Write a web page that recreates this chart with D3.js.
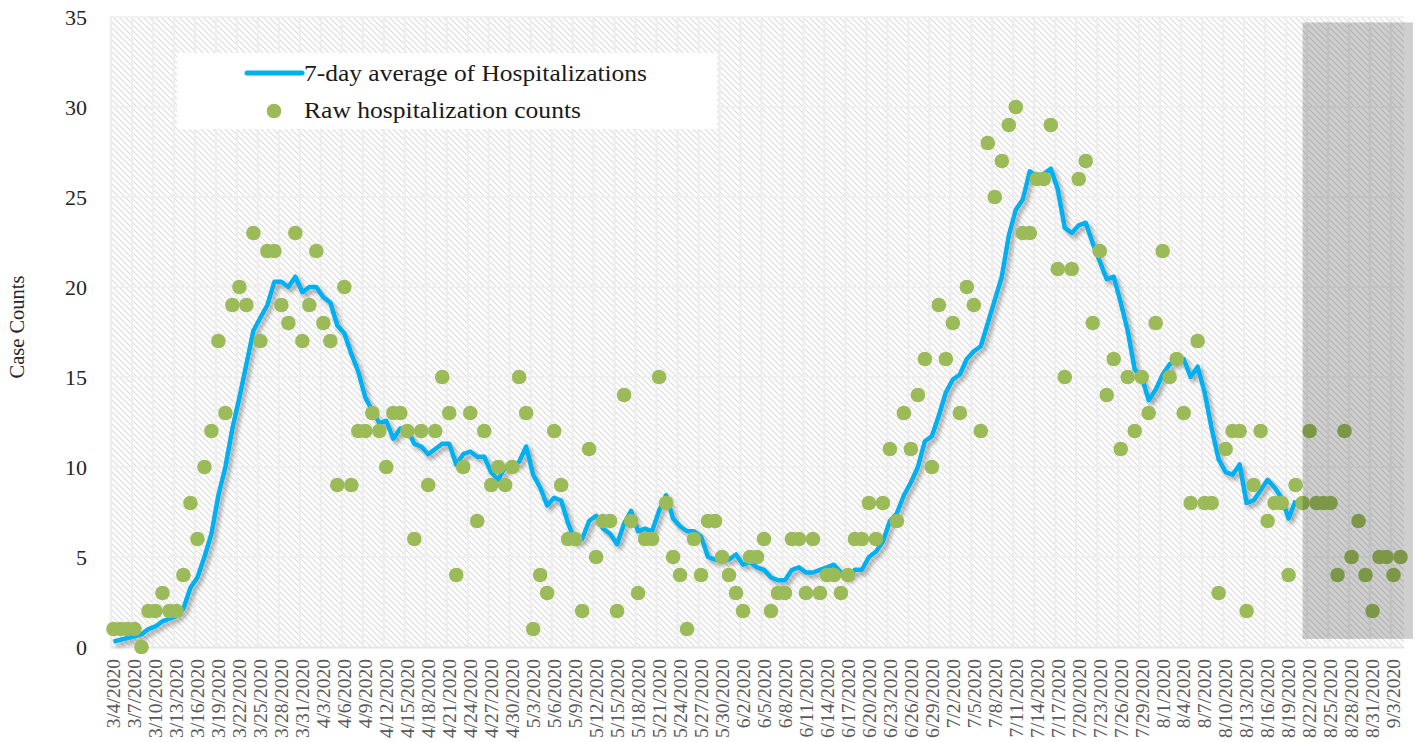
<!DOCTYPE html>
<html>
<head>
<meta charset="utf-8">
<script src="https://cdn.jsdelivr.net/npm/d3@7"></script>
<style>
  body { margin: 0; background: #ffffff; }
  svg { display: block; }
</style>
</head>
<body>
<svg id="chart" width="1424" height="742"></svg>
<script>
// ---------------- data ----------------
const startDate = new Date(2020, 2, 4);
const endDate = new Date(2020, 8, 5); // exclusive
const dates = d3.timeDay.range(startDate, endDate); // 3/4/2020 ... 9/4/2020

const rawCounts = [
  1,1,1,1,0,2,2,3,2,2,
  4,8,6,10,12,17,13,19,20,19,
  23,17,22,22,19,18,23,17,19,22,
  18,17,9,20,9,12,12,13,12,10,
  13,13,12,6,12,9,12,15,13,4,
  10,13,7,12,9,10,9,10,15,13,
  1,4,3,12,9,6,6,2,11,5,
  7,7,2,14,7,3,6,6,15,8,
  5,4,1,6,4,7,7,5,4,3,
  2,5,5,6,2,3,3,6,6,3,
  6,3,4,4,3,4,6,6,8,6,
  8,11,7,13,11,14,16,10,19,16,
  18,13,20,19,12,28,25,27,29,30,
  23,23,26,26,29,21,15,21,26,27,
  18,22,14,16,11,15,12,15,13,18,
  22,15,16,13,8,17,8,8,3,11,
  12,12,2,9,12,7,8,8,4,9,
  8,12,8,8,8,4,12,5,7,4,
  2,5,5,4,5
];

const avgCounts = [
  0.3,0.4,0.5,0.6,0.7,1.0,1.14,1.43,1.57,1.71,
  2.14,3.29,3.86,5.0,6.29,8.43,10.0,12.14,13.86,15.71,
  17.57,18.29,19.0,20.29,20.29,20.0,20.57,19.71,20.0,20.0,
  19.43,19.14,17.86,17.43,16.29,15.29,13.86,13.14,12.43,12.57,
  11.57,12.14,12.14,11.29,11.14,10.71,11.0,11.29,11.29,10.14,
  10.71,10.86,10.57,10.57,9.71,9.29,10.0,10.0,10.29,11.14,
  9.57,8.86,7.86,8.29,8.14,6.86,5.86,6.0,7.0,7.29,
  6.57,6.29,5.71,6.86,7.57,6.43,6.57,6.43,7.57,8.43,
  7.14,6.71,6.43,6.43,6.14,5.0,4.86,4.86,4.86,5.14,
  4.57,4.71,4.43,4.29,3.86,3.71,3.71,4.29,4.43,4.14,
  4.14,4.29,4.43,4.57,4.14,3.86,4.29,4.29,5.0,5.29,
  5.86,7.0,7.43,8.43,9.14,10.0,11.43,11.71,12.86,14.14,
  14.86,15.14,16.0,16.43,16.71,18.0,19.29,20.57,22.86,24.29,
  24.86,26.43,26.14,26.29,26.57,25.43,23.29,23.0,23.43,23.57,
  22.43,21.43,20.43,20.57,19.14,17.57,15.43,15.0,13.71,14.29,
  15.14,15.71,15.86,16.0,15.0,15.57,14.14,12.14,10.43,9.71,
  9.57,10.14,8.0,8.14,8.71,9.29,8.86,8.29,7.14,8.14
];

const yTicks = [0, 5, 10, 15, 20, 25, 30, 35];
const tickStep = 3;
const tickDates = dates.filter((d, i) => i % tickStep === 0);
const seriesNames = ["7-day average of Hospitalizations", "Raw hospitalization counts"];
const yTitle = "Case Counts";
const shadedFrom = new Date(2020, 7, 21); // grey shaded period start

// ---------------- layout ----------------
const svg = d3.select("#chart");
const m = { left: 110, right: 1404, top: 17, bottom: 647 };
const FONT = "'Liberation Serif', 'Times New Roman', serif";

const x = d3.scaleBand().domain(dates).range([m.left, m.right]).padding(0);
const xc = d => x(d) + x.bandwidth() / 2;
const y = d3.scaleLinear().domain([0, 35]).range([m.bottom, m.top]);

const defs = svg.append("defs");
const pat = defs.append("pattern")
  .attr("id", "hatch").attr("patternUnits", "userSpaceOnUse")
  .attr("width", 6).attr("height", 6);
pat.append("rect").attr("width", 6).attr("height", 6).attr("fill", "#ffffff");
pat.append("path")
  .attr("d", "M-1,-1 L7,7 M-1,5 L1,7 M5,-1 L7,1")
  .attr("stroke", "#dddddd").attr("stroke-width", 1.2);

const f = defs.append("filter").attr("id", "shadow")
  .attr("x", "-5%").attr("y", "-5%").attr("width", "110%").attr("height", "110%");
f.append("feDropShadow").attr("dx", 3).attr("dy", 3.5).attr("stdDeviation", 2.2)
  .attr("flood-color", "#000").attr("flood-opacity", 0.35);

// plot background
svg.append("rect")
  .attr("x", m.left).attr("y", m.top)
  .attr("width", m.right - m.left).attr("height", m.bottom - m.top)
  .attr("fill", "url(#hatch)");

// horizontal grid
svg.append("g").selectAll("line").data(yTicks.filter(v => v > 0)).join("line")
  .attr("x1", m.left).attr("x2", m.right)
  .attr("y1", d => y(d)).attr("y2", d => y(d))
  .attr("stroke", "#eeeeee").attr("stroke-width", 1.5);

// vertical grid (between categories, every 3 days)
svg.append("g").selectAll("line").data(tickDates).join("line")
  .attr("x1", d => x(d) + 1).attr("x2", d => x(d) + 1)
  .attr("y1", m.top).attr("y2", m.bottom)
  .attr("stroke", "#eeeeee").attr("stroke-width", 2.5);

// x axis
const xAxis = svg.append("g")
  .attr("transform", `translate(0,${m.bottom})`)
  .call(d3.axisBottom(x).tickValues(tickDates).tickFormat(d3.timeFormat("%-m/%-d/%Y")).tickSize(0));
xAxis.select(".domain").attr("stroke", "#e6e6e6").attr("stroke-width", 2);
xAxis.selectAll("text")
  .attr("transform", "rotate(-90)")
  .attr("x", -12).attr("y", 0).attr("dy", "0.35em")
  .attr("text-anchor", "end")
  .attr("font-family", FONT).attr("font-size", 19.5)
  .attr("fill", "#595959");

// y axis
const yAxis = svg.append("g")
  .attr("transform", `translate(${m.left},0)`)
  .call(d3.axisLeft(y).tickValues(yTicks).tickSize(0).tickPadding(23));
yAxis.select(".domain").remove();
yAxis.selectAll("text")
  .attr("font-family", FONT).attr("font-size", 22)
  .attr("fill", "#262626");

svg.append("text")
  .attr("transform", `translate(24,327) rotate(-90)`)
  .attr("text-anchor", "middle")
  .attr("font-family", FONT).attr("font-size", 20.5)
  .attr("fill", "#262626")
  .text(yTitle);

// 7-day average line
const lineGen = d3.line()
  .x((d, i) => xc(dates[i]))
  .y(d => y(d));
svg.append("path")
  .datum(avgCounts)
  .attr("d", lineGen)
  .attr("fill", "none")
  .attr("stroke", "#00B0F0")
  .attr("stroke-width", 4.5)
  .attr("stroke-linejoin", "round")
  .attr("filter", "url(#shadow)");

// raw points
svg.append("g").selectAll("circle").data(rawCounts).join("circle")
  .attr("cx", (d, i) => xc(dates[i]))
  .attr("cy", d => y(d))
  .attr("r", 7.3)
  .attr("fill", "#9BBB59");

// grey shaded recent period
const gx0 = xc(shadedFrom);
svg.append("rect")
  .attr("x", gx0).attr("y", y(34.7))
  .attr("width", (m.right + 9) - gx0).attr("height", y(0.45) - y(34.7))
  .attr("fill", "#000").attr("fill-opacity", 0.19);

// legend
const lg = svg.append("g");
lg.append("rect").attr("x", 177).attr("y", 53).attr("width", 540).attr("height", 76)
  .attr("fill", "#ffffff");
lg.append("line").attr("x1", 247).attr("x2", 302).attr("y1", 73).attr("y2", 73)
  .attr("stroke", "#00B0F0").attr("stroke-width", 5).attr("stroke-linecap", "round");
lg.append("circle").attr("cx", 274).attr("cy", 111).attr("r", 7.3).attr("fill", "#9BBB59");
lg.append("text").attr("x", 304).attr("y", 81)
  .attr("font-family", FONT).attr("font-size", 24)
  .attr("textLength", 343).attr("lengthAdjust", "spacingAndGlyphs")
  .attr("fill", "#1a1a1a").text(seriesNames[0]);
lg.append("text").attr("x", 304).attr("y", 118)
  .attr("font-family", FONT).attr("font-size", 24)
  .attr("textLength", 277).attr("lengthAdjust", "spacingAndGlyphs")
  .attr("fill", "#1a1a1a").text(seriesNames[1]);
</script>
</body>
</html>
